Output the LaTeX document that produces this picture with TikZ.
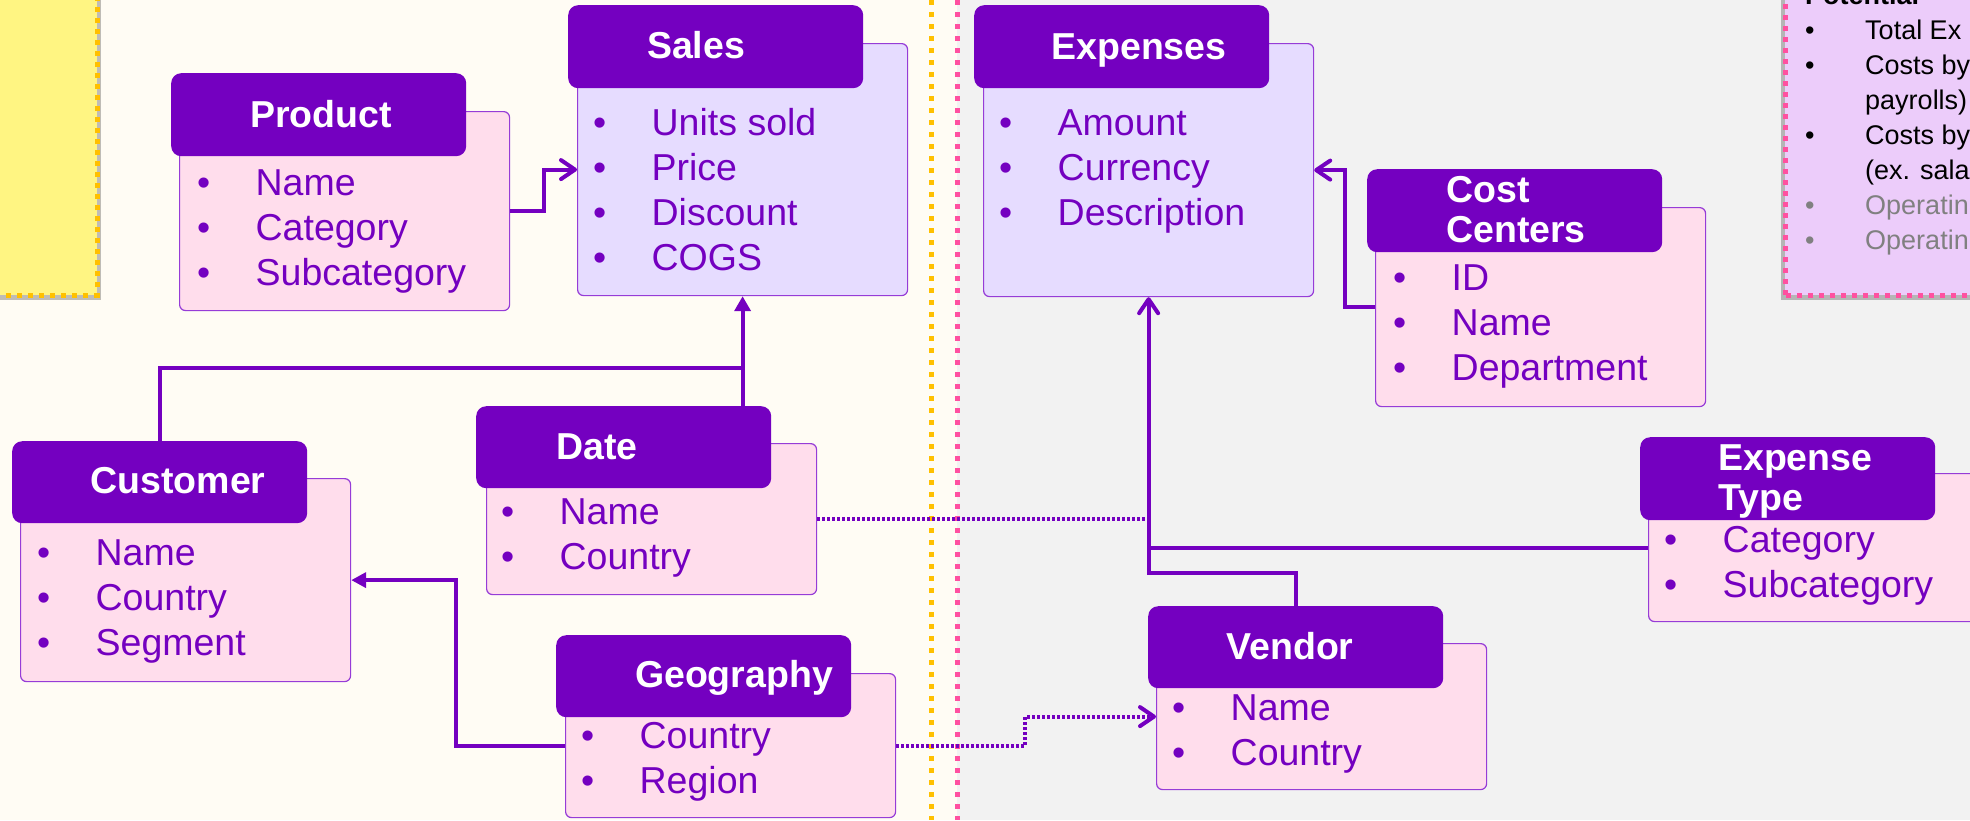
\documentclass[tikz,border=0pt]{standalone}
\usepackage{fontspec}
\setmainfont{Liberation Sans}
\usetikzlibrary{arrows.meta}
\definecolor{hdr}{RGB}{116,0,192}
\definecolor{bord}{RGB}{150,60,215}
\definecolor{pinkfill}{RGB}{255,221,236}
\definecolor{lilacfill}{RGB}{230,220,255}
\definecolor{cream}{RGB}{255,252,244}
\definecolor{greybg}{RGB}{242,242,242}
\definecolor{yellowfill}{RGB}{255,245,130}
\definecolor{orangedot}{RGB}{255,192,0}
\definecolor{pinkdot}{RGB}{255,80,160}
\definecolor{lilacnote}{RGB}{236,204,250}
\definecolor{greytxt}{RGB}{128,128,128}
\newcommand{\itbul}{\makebox[58.5pt][l]{\textbullet}}
\newcommand{\notebul}{\makebox[60pt][l]{\textbullet}}
\newcommand{\noteind}{\hspace*{60pt}}
\tikzstyle{tblbody}=[draw=bord,line width=1.2pt,rounded corners=6pt,minimum width=330pt,anchor=north west,inner sep=0pt]
\tikzstyle{pinkb}=[tblbody,fill=pinkfill]
\tikzstyle{lilacb}=[tblbody,fill=lilacfill]
\tikzstyle{tblhead}=[fill=hdr,rounded corners=10pt,minimum width=295pt,minimum height=83pt,anchor=north west,inner sep=0pt]
\tikzstyle{tbltitle}=[text=white,font=\fontsize{37.5}{40}\selectfont\bfseries,anchor=base,inner sep=0pt]
\tikzstyle{tblitem}=[text=hdr,font=\fontsize{37.5}{45}\selectfont,anchor=base west,inner sep=0pt]
\tikzstyle{noteitem}=[text=black,font=\fontsize{27}{35}\selectfont,anchor=base west,inner sep=0pt]
\tikzstyle{conn}=[draw=hdr,line width=4pt]
\tikzstyle{dotconn}=[conn,dash pattern=on 3pt off 2pt]
\tikzstyle{divider}=[line width=5pt,dash pattern=on 5pt off 7pt]
\tikzstyle{notebox}=[line width=5pt,dash pattern=on 5pt off 6pt]
\begin{document}
\begin{tikzpicture}[x=1pt,y=-1pt,>={Straight Barb[length=14pt,width=19pt,round]}]
    \useasboundingbox (0,0) rectangle (1970,820);
    \clip (0,0) rectangle (1970,820);
    % background and dividers
    \fill[cream] (0,0) rectangle (957,820);
    \fill[greybg] (957,0) rectangle (1970,820);
    \draw[divider,draw=orangedot] (931,0) -- (931,820);
    \draw[divider,draw=pinkdot] (957,0) -- (957,820);
    % note boxes
    \fill[black,opacity=.25] (-20,-20) rectangle (101,300);
    \filldraw[notebox,fill=yellowfill,draw=orangedot] (-20,-20) rectangle (97,295);
    \fill[black,opacity=.25] (1781,-20) rectangle (1990,300);
    \filldraw[notebox,fill=lilacnote,draw=pinkdot] (1785,295) rectangle (1990,-20);
    \node[noteitem,font=\fontsize{27}{35}\selectfont\bfseries] (pot) at (1805,4) {Potential};
    \foreach \itm [count=\i] in {\notebul Total Ex,\notebul Costs by,\noteind payrolls),\notebul Costs by,\noteind (ex. sala}
    \node[noteitem] (pot\i) at (1805,4+35*\i) {\itm};
    \foreach \itm [count=\i from 6] in {Operatin,Operatin}
    \node[noteitem,text=greytxt] (pot\i) at (1805,4+35*\i) {\notebul\itm};

    % Product
    \node[pinkb,minimum height=199pt] (product) at (179,111) {};
    \node[tblhead] (producth) at (171,73) {};
    \node[tbltitle] (productt) at (321,127) {Product};
    \foreach \itm [count=\i from 0] in {Name,Category,Subcategory}
    \node[tblitem] (product\i) at (197,195+45*\i) {\itbul\itm};

    % Sales
    \node[lilacb,minimum height=252pt] (sales) at (577,43) {};
    \node[tblhead] (salesh) at (568,5) {};
    \node[tbltitle] (salest) at (696,58) {Sales};
    \foreach \itm [count=\i from 0] in {Units sold,Price,Discount,COGS}
    \node[tblitem] (sales\i) at (593,135+45*\i) {\itbul\itm};

    % Expenses
    \node[lilacb,minimum height=253pt] (expenses) at (983,43) {};
    \node[tblhead] (expensesh) at (974,5) {};
    \node[tbltitle] (expensest) at (1139,59) {Expenses};
    \foreach \itm [count=\i from 0] in {Amount,Currency,Description}
    \node[tblitem] (expenses\i) at (999,135+45*\i) {\itbul\itm};

    % Cost Centers
    \node[pinkb,minimum height=199pt] (cost) at (1375,207) {};
    \node[tblhead] (costh) at (1367,169) {};
    \node[tbltitle,anchor=base west,align=left] (costt) at (1446,242) {Cost\\Centers};
    \foreach \itm [count=\i from 0] in {ID,Name,Department}
    \node[tblitem] (cost\i) at (1393,290+45*\i) {\itbul\itm};

    % Customer
    \node[pinkb,minimum height=203pt] (customer) at (20,478) {};
    \node[tblhead,minimum height=82pt] (customerh) at (12,441) {};
    \node[tbltitle] (customert) at (178,493) {Customer};
    \foreach \itm [count=\i from 0] in {Name,Country,Segment}
    \node[tblitem] (customer\i) at (37,565+45*\i) {\itbul\itm};

    % Date
    \node[pinkb,minimum height=151pt] (date) at (486,443) {};
    \node[tblhead,minimum height=82pt] (dateh) at (476,406) {};
    \node[tbltitle] (datet) at (597,459) {Date};
    \foreach \itm [count=\i from 0] in {Name,Country}
    \node[tblitem] (date\i) at (501,524+45*\i) {\itbul\itm};

    % Geography
    \node[pinkb,minimum height=144pt] (geo) at (565,673) {};
    \node[tblhead,minimum height=82pt] (geoh) at (556,635) {};
    \node[tbltitle] (geot) at (734,687) {Geography};
    \foreach \itm [count=\i from 0] in {Country,Region}
    \node[tblitem] (geo\i) at (581,748+45*\i) {\itbul\itm};

    % Vendor
    \node[pinkb,minimum height=146pt] (vendor) at (1156,643) {};
    \node[tblhead,minimum height=82pt] (vendorh) at (1148,606) {};
    \node[tbltitle] (vendort) at (1290,659) {Vendor};
    \foreach \itm [count=\i from 0] in {Name,Country}
    \node[tblitem] (vendor\i) at (1172,720+45*\i) {\itbul\itm};

    % Expense Type
    \node[pinkb,minimum height=148pt] (etype) at (1648,473) {};
    \node[tblhead] (etypeh) at (1640,437) {};
    \node[tbltitle,anchor=base west,align=left] (etypet) at (1718,510) {Expense\\Type};
    \foreach \itm [count=\i from 0] in {Category,Subcategory}
    \node[tblitem] (etype\i) at (1664,552+45*\i) {\itbul\itm};

    % relations
    \coordinate (jsale) at (741.5,368);
    \draw[conn,-{Triangle[length=15pt,width=16pt]}] (dateh.north -| sales.south) -- (sales.south);
    \draw[conn] (customerh.north) |- (jsale);
    \draw[conn,->] (product.east) -- ++(34,0) |- (sales.west);
    \draw[conn,->] (cost.west) -- ++(-30,0) |- (expenses.east);
    \draw[conn,-{Triangle[length=15pt,width=15pt]}] (geo.west) -- ++(-109,0) |- (customer.east);
    \draw[dotconn,->] (geo.east) -- ++(129,0) |- (vendor.west);
    \draw[dotconn] (date.east) -- (date.east -| expenses.south);
    \draw[conn] (etype.west) -- (etype.west -| expenses.south);
    \draw[conn,->] (vendorh.north) -- ++(0,-33) -| (expenses.south);
\end{tikzpicture}
\end{document}
